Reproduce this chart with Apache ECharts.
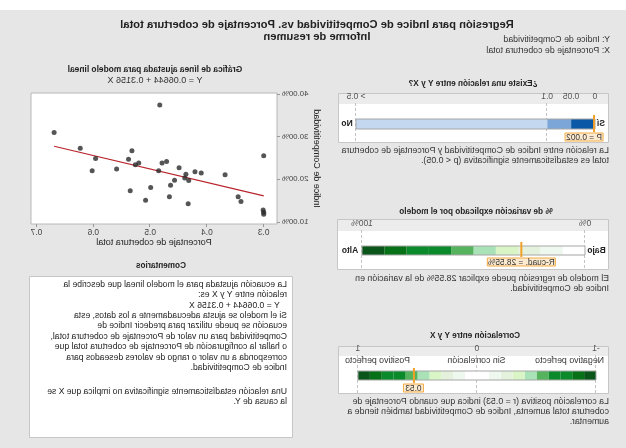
<!DOCTYPE html>
<html><head><meta charset="utf-8">
<script src="https://cdn.jsdelivr.net/npm/echarts@6/dist/echarts.min.js"></script>
<style>
html,body{margin:0;padding:0;background:#fff;}
#c{width:626px;height:448px;transform:scaleX(-1);background:linear-gradient(#ffffff 0px,#ffffff 10px,#e6e6e6 10px,#e6e6e6 448px);}
</style>
</head><body><div id="c"></div>
<script>
// ---------- data ----------
const coberturaX = [0.669,0.483,0.623,0.596,0.602,0.559,0.532,0.538,0.526,0.520,0.535,0.499,0.508,0.485,0.479,0.471,0.449,0.457,0.464,0.466,0.437,0.439,0.432,0.421,0.410,0.433,0.368,0.345,0.340,0.300,0.301,0.300,0.300];
const competitividadY = [0.310,0.374,0.273,0.249,0.220,0.224,0.267,0.247,0.234,0.238,0.173,0.181,0.151,0.220,0.238,0.242,0.227,0.198,0.186,0.159,0.212,0.203,0.197,0.218,0.215,0.143,0.211,0.159,0.148,0.255,0.128,0.123,0.118];
const fitLineX = [0.300, 0.669];
const fitLineY = [0.1611, 0.2776];
const xTicks = [0.3, 0.4, 0.5, 0.6, 0.7];
const yTicks = [0.1, 0.2, 0.3, 0.4];

const pValue = 0.002;
const pBreaks = [0, 0.05, 0.1, 0.5];
const pTickLabels = ['0', '0.05', '0.1', '> 0.5'];
const pColors = ['#0b58a6', '#7ca5d8', '#c4d8f0'];

const rSquared = 28.55;
const r2Breaks = [0,10,20,30,40,50,60,70,80,90,100];
const r2TickValues = [0, 100];
const r2TickLabels = ['0%', '100%'];
const greens = ['#ffffff','#eff8ee','#e4f2dd','#d9f5c5','#a8e2b6','#55b25d','#0b8a2c','#0b8a2c','#077117','#0a5519'];

const correlation = 0.53;
const corrBreaks = [-1,-0.9,-0.8,-0.7,-0.6,-0.5,-0.4,-0.3,-0.2,-0.1,0,0.1,0.2,0.3,0.4,0.5,0.6,0.7,0.8,0.9,1];
const corrTicks = [-1, 0, 1];

// ---------- helpers ----------
const FONT = '"Liberation Sans", Arial, sans-serif';
function segs(breaks, colorFor){
  const out = [];
  for (let i=0;i<breaks.length-1;i++) out.push({value:[breaks[i], breaks[i+1]], color: colorFor(i, breaks[i], breaks[i+1])});
  return out;
}
function segSeries(gi, data, off, h){
  return {type:'custom', xAxisIndex:gi, yAxisIndex:gi, data:data, z:3, silent:true,
    renderItem:function(params, api){
      const cs = params.coordSys;
      const a = api.coord([api.value(0),0])[0], b = api.coord([api.value(1),0])[0];
      return {type:'rect', shape:{x:a, y:cs.y+off, width:b-a, height:h}, style:{fill:data[params.dataIndex].color, stroke:null}};
    }};
}
function outlineSeries(gi, range, off, h){
  return {type:'custom', xAxisIndex:gi, yAxisIndex:gi, data:[range], z:4, silent:true,
    renderItem:function(params, api){
      const cs = params.coordSys;
      const a = api.coord([api.value(0),0])[0], b = api.coord([api.value(1),0])[0];
      return {type:'rect', shape:{x:a, y:cs.y+off, width:b-a, height:h}, style:{fill:'none', stroke:'#a6a6a6', lineWidth:1}};
    }};
}
function dashSeries(gi, vals){
  return {type:'custom', xAxisIndex:gi, yAxisIndex:gi, data:vals.map(v=>[v]), z:2, silent:true,
    renderItem:function(params, api){
      const cs = params.coordSys;
      const x = Math.round(api.coord([api.value(0),0])[0])+0.5;
      return {type:'line', shape:{x1:x, y1:cs.y, x2:x, y2:cs.y+cs.height}, style:{stroke:'#c4c4c4', lineWidth:1, lineDash:[3,2]}};
    }};
}
function markerSeries(gi, val, cfg){
  return {type:'custom', xAxisIndex:gi, yAxisIndex:gi, data:[[val]], z:6, silent:true,
    renderItem:function(params, api){
      const cs = params.coordSys;
      const x = api.coord([api.value(0),0])[0];
      const cx = x + cfg.shift;
      return {type:'group', children:[
        {type:'line', shape:{x1:x, y1:cs.y+cfg.lineTop, x2:x, y2:cs.y+cfg.lineBot}, style:{stroke:'#f2a128', lineWidth:2}},
        {type:'rect', shape:{x:cx-cfg.boxW/2, y:cs.y+cfg.boxTop, width:cfg.boxW, height:cfg.boxH}, style:{fill:'#fdebd1', stroke:'#f3ab45', lineWidth:1}},
        {type:'text', style:{text:cfg.text, x:cx, y:cs.y+cfg.boxTop+cfg.boxH/2+0.5, align:'center', verticalAlign:'middle', fontSize:8.3, fontFamily:FONT, fill:'#333'}}
      ]};
    }};
}
function headerAxis(gi, min, max, vals, fmt){
  return {type:'value', gridIndex:gi, min:min, max:max, position:'top',
    axisLine:{show:false}, axisTick:{show:false}, splitLine:{show:false},
    axisLabel:{customValues:vals, formatter:fmt, fontSize:8.5, color:'#555', margin:1.5, fontFamily:FONT, showMinLabel:true, showMaxLabel:true}};
}
function hiddenY(gi){ return {type:'value', gridIndex:gi, min:0, max:1, show:false}; }
function txt(text, x, y, o){
  o = o || {};
  return {type:'text', z:10, style:{text:text, x:x, y:y, fontSize:o.fs||8, fontWeight:o.bold?'bold':'normal', fontFamily:FONT,
    fill:o.color||'#222', align:o.align||'left', verticalAlign:o.va||'middle', lineHeight:o.lh||10}};
}
function box(x, y, w, h, header){
  const arr = [{type:'rect', z:-5, shape:{x:x+0.5, y:y+0.5, width:w, height:h}, style:{fill:'#ffffff', stroke:'#c6c6c6', lineWidth:1}}];
  if (header) arr.push({type:'rect', z:-4, shape:{x:x+1, y:y+1, width:w-1, height:header}, style:{fill:'#ececec', stroke:null}});
  return arr;
}

const scatterData = coberturaX.map((x,i)=>[x, competitividadY[i]]);
const fitData = fitLineX.map((x,i)=>[x, fitLineY[i]]);

const comments1 = [
  'La ecuación ajustada para el modelo lineal que describe la',
  'relación entre Y y X es:',
  '   Y = 0.06644 + 0.3156 X',
  'Si el modelo se ajusta adecuadamente a los datos, esta',
  'ecuación se puede utilizar para predecir Indice de',
  'Competitividad para un valor de Porcentaje de cobertura total,',
  'o hallar la configuración de Porcentaje de cobertura total que',
  'corresponda a un valor o rango de valores deseados para',
  'Indice de Competitividad.'
].join('\n');
const comments2 = [
  'Una relación estadísticamente significativa no implica que X se',
  'la causa de Y.'
].join('\n');

const graphics = [].concat(
  box(17, 93, 270, 49, 10),
  box(17, 219, 271, 50, 11),
  box(17, 346, 270, 47, 9),
  box(333, 276, 263, 161, 0),
  [
    txt('Regresión para Indice de Competitividad vs. Porcentaje de cobertura total', 309, 25, {bold:true, fs:11.2, align:'center'}),
    txt('Informe de resumen', 309, 36.5, {bold:true, fs:11.2, align:'center'}),
    txt('Y: Indice de Competitividad', 16, 40, {fs:8.8, color:'#333'}),
    txt('X: Porcentaje de cobertura total', 16, 51, {fs:8.8, color:'#333'}),

    txt('¿Existe una relación entre Y y X?', 153, 84, {bold:true, fs:8.2, align:'center'}),
    txt('Sí', 25, 124, {bold:true, fs:8.5, align:'center'}),
    txt('No', 279, 124, {bold:true, fs:8.5, align:'center'}),
    txt('La relación entre Indice de Competitividad y Porcentaje de cobertura\ntotal es estadísticamente significativa (p < 0.05).', 17, 146, {fs:8.8, va:'top', color:'#333', lh:10}),

    txt('% de variación explicado por el modelo', 150, 212, {bold:true, fs:8.2, align:'center'}),
    txt('Bajo', 29.5, 251, {bold:true, fs:8.5, align:'center'}),
    txt('Alto', 276, 251, {bold:true, fs:8.5, align:'center'}),
    txt('El modelo de regresión puede explicar 28.55% de la variación en\nIndice de Competitividad.', 17, 274, {fs:8.8, va:'top', color:'#333', lh:10}),

    txt('Correlación entre Y y X', 151, 336, {bold:true, fs:8.2, align:'center'}),
    txt('Negativo perfecto', 22, 361, {fs:8.8, color:'#333'}),
    txt('Sin correlación', 149.5, 361, {fs:8.8, align:'center', color:'#333'}),
    txt('Positivo perfecto', 281, 361, {fs:8.8, align:'right', color:'#333'}),
    txt('La correlación positiva (r = 0.53) indica que cuando Porcentaje de\ncobertura total aumenta, Indice de Competitividad también tiende a\naumentar.', 17, 397, {fs:8.8, va:'top', color:'#333', lh:10}),

    txt('Gráfica de línea ajustada para modelo lineal', 471, 70, {bold:true, fs:8.4, align:'center'}),
    txt('Y = 0.06644 + 0.3156 X', 471, 81, {fs:9, align:'center', color:'#333'}),

    txt('Comentarios', 465, 266, {bold:true, fs:8.2, align:'center'}),
    txt(comments1, 339, 279.3, {fs:8.6, va:'top', color:'#222', lh:10.4}),
    txt(comments2, 339, 386.7, {fs:8.6, va:'top', color:'#222', lh:10})
  ]
);

const option = {
  animation:false,
  textStyle:{fontFamily:FONT},
  graphic:{elements:graphics},
  grid:[
    {left:349, top:93, width:246, height:131, show:true, backgroundColor:'#ffffff', borderColor:'#b8b8b8', borderWidth:1, z:-1},
    {left:31, top:103, width:239, height:39},
    {left:41, top:230, width:223, height:39},
    {left:30, top:355, width:238, height:38}
  ],
  xAxis:[
    {type:'value', gridIndex:0, min:0.2766, max:0.7097,
      name:'Porcentaje de cobertura total', nameLocation:'middle', nameGap:14,
      nameTextStyle:{fontSize:9, color:'#222', fontFamily:FONT},
      axisLine:{show:false}, splitLine:{show:false},
      axisTick:{show:true, customValues:xTicks, length:3, lineStyle:{color:'#999'}},
      axisLabel:{customValues:xTicks, formatter:v=>v.toFixed(1), fontSize:8.3, color:'#444', margin:5}},
    headerAxis(1, 0, 0.5, pBreaks, v=>pTickLabels[pBreaks.indexOf(v)]),
    headerAxis(2, 0, 100, r2TickValues, v=>r2TickLabels[r2TickValues.indexOf(v)]),
    headerAxis(3, -1, 1, corrTicks, v=>String(v))
  ],
  yAxis:[
    {type:'value', gridIndex:0, min:0.0953, max:0.4023,
      name:'Indice de Competitividad', nameLocation:'middle', nameGap:35, nameRotate:90,
      nameTextStyle:{fontSize:9, color:'#222', fontFamily:FONT},
      axisLine:{show:false}, splitLine:{show:false},
      axisTick:{show:true, customValues:yTicks, length:3, lineStyle:{color:'#999'}},
      axisLabel:{customValues:yTicks, formatter:v=>(v*100).toFixed(2)+'%', fontSize:7.8, color:'#444', margin:5}},
    hiddenY(1), hiddenY(2), hiddenY(3)
  ],
  series:[
    {type:'line', xAxisIndex:0, yAxisIndex:0, data:fitData, symbol:'none', lineStyle:{color:'#b8232b', width:1.2}, z:3},
    {type:'scatter', xAxisIndex:0, yAxisIndex:0, data:scatterData, symbolSize:5, itemStyle:{color:'#2b2b2b'}, z:4},

    dashSeries(1, [pBreaks[2], pBreaks[3]]),
    segSeries(1, segs(pBreaks, i=>pColors[i]), 16, 10),
    outlineSeries(1, [pBreaks[0], pBreaks[3]], 16, 10),
    markerSeries(1, pValue, {shift:10, lineTop:12, lineBot:29, boxTop:30, boxH:8, boxW:38, text:'P = 0.002'}),

    dashSeries(2, r2TickValues),
    segSeries(2, segs(r2Breaks, i=>greens[i]), 16, 9),
    outlineSeries(2, [0, 100], 16, 9),
    markerSeries(2, rSquared, {shift:0, lineTop:12, lineBot:27, boxTop:28, boxH:8, boxW:68, text:'R-cuad. = 28.55%'}),

    dashSeries(3, corrTicks),
    segSeries(3, segs(corrBreaks, (i,a,b)=>greens[Math.min(9, Math.round(Math.max(Math.abs(a),Math.abs(b))*10)-1)]), 16, 9),
    outlineSeries(3, [-1, 1], 16, 9),
    markerSeries(3, correlation, {shift:0.5, lineTop:13, lineBot:28, boxTop:29, boxH:8, boxW:20, text:'0.53'})
  ]
};
const chart = echarts.init(document.getElementById('c'), null, {renderer:'canvas'});
chart.setOption(option);
</script>
</body></html>
